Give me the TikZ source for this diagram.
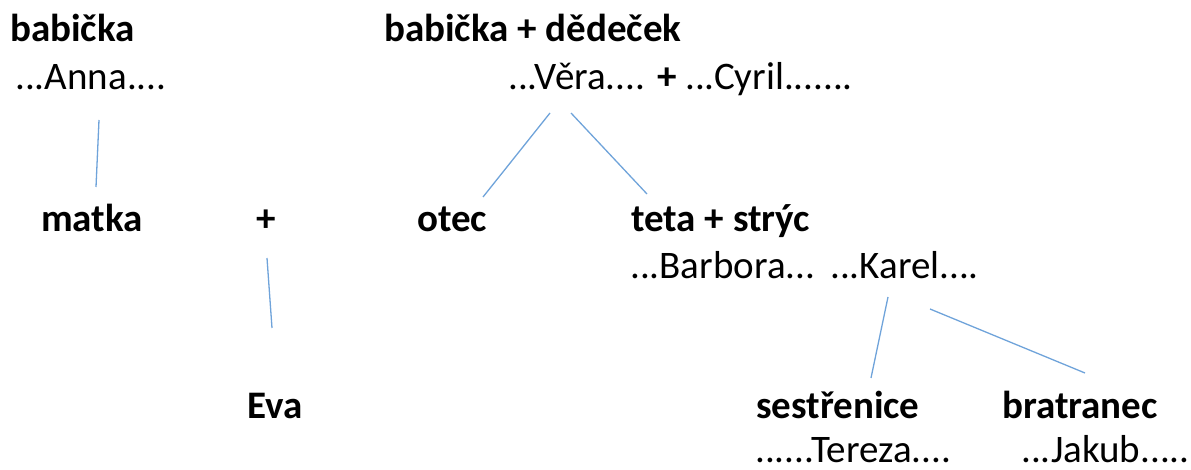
\documentclass[tikz,border=0pt]{standalone}
\usepackage{fontspec}
\setmainfont{Carlito}
\usetikzlibrary{positioning}
\definecolor{linka}{HTML}{6FA3DA}
\tikzset{
  role/.style={anchor=base west, inner sep=0pt, font=\fontsize{39bp}{47bp}\selectfont\bfseries},
  jmeno/.style={anchor=base west, inner sep=0pt, font=\fontsize{39bp}{47bp}\selectfont},
  linka/.style={draw=linka, line width=1.3bp}
}

\begin{document}
\begin{tikzpicture}[x=1bp, y=-1bp]
		%%%%% START %%%%%
		\useasboundingbox (0, 0) rectangle (1191, 470);
		
		% babicka z matciny strany
		\node[role] (babicka) at (10, 42) {babička};
		\node[jmeno] (anna) at (15, 90) {...Anna....};
		\node[role] (matka) at (41, 232) {matka};
		
		% babicka a dedecek z otcovy strany
		\node[role] (prarodice) at (384, 42) {babička + dědeček};
		\node[jmeno] (vera) at (508, 90) {...Věra.... \textbf{+} ...Cyril.......};
		\node[role] (otec) at (417, 232) {otec};
		\node[role] (tetastryc) at (631, 232) {teta + strýc};
		\node[jmeno] (barbora) at (630, 279) {...Barbora...};
		\node[jmeno] (karel) at (830, 279) {...Karel....};
		
		% deti
		\node[role] (plus) at (256, 232) {+};
		\node[role] (eva) at (247, 419) {Eva};
		\node[role] (sestrenice) at (756, 419) {sestřenice};
		\node[jmeno] (tereza) at (755, 463) {......Tereza....};
		\node[role] (bratranec) at (1002, 419) {bratranec};
		\node[jmeno] (jakub) at (1021, 463) {...Jakub......};
		
		% konce car
		\coordinate (anna-d) at (99, 120);
		\coordinate (matka-h) at (96, 187);
		\coordinate (plus-d) at (267, 258);
		\coordinate (eva-h) at (272, 328);
		\coordinate (vera-dl) at (550, 113);
		\coordinate (otec-h) at (483, 197);
		\coordinate (vera-dp) at (571, 113);
		\coordinate (teta-h) at (647, 194);
		\coordinate (karel-dl) at (888, 297);
		\coordinate (sestrenice-h) at (871, 378);
		\coordinate (karel-dp) at (930, 309);
		\coordinate (bratranec-h) at (1085, 373);
		
		\draw[linka] (anna-d) -- (matka-h);
		\draw[linka] (plus-d) -- (eva-h);
		\draw[linka] (vera-dl) -- (otec-h);
		\draw[linka] (vera-dp) -- (teta-h);
		\draw[linka] (karel-dl) -- (sestrenice-h);
		\draw[linka] (karel-dp) -- (bratranec-h);
		%%%%% END %%%%%
\end{tikzpicture}
\end{document}
